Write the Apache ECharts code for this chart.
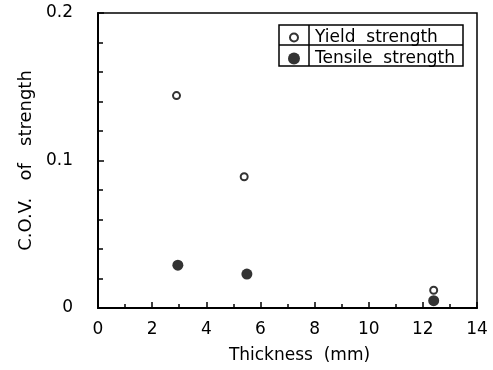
<!DOCTYPE html>
<html>
<head>
<meta charset="utf-8">
<script src="https://cdn.jsdelivr.net/npm/echarts@6/dist/echarts.min.js"></script>
<style>
  html, body { margin: 0; padding: 0; background: #fff; }
  #chart { width: 493px; height: 370px; }
</style>
</head>
<body>
<div id="chart"></div>
<script>
// Coefficient of variation of strength against plate thickness
const yieldThickness = [2.9, 5.4, 12.4];
const yieldCov = [0.144, 0.089, 0.012];
const tensileThickness = [2.95, 5.5, 12.4];
const tensileCov = [0.029, 0.023, 0.005];
const seriesNames = ['Yield  strength', 'Tensile  strength'];
const xTitle = 'Thickness  (mm)';
const yTitle = 'C.O.V.   of   strength';

const FONT = '"DejaVu Sans", Verdana, sans-serif';
const pairs = (xs, ys) => xs.map((x, i) => [x, ys[i]]);

// small ring for the legend: the two leading moves keep a 12x12 box so the ring stays small
const RING_ICON = 'path://M0,0M12,12M6,2A4,4,0,1,1,5.99,2Z';

const chart = echarts.init(document.getElementById('chart'), null, { renderer: 'canvas' });

const axisText = { color: '#000', fontFamily: FONT, fontSize: 17 };

chart.setOption({
  animation: false,
  backgroundColor: '#fff',
  grid: {
    left: 98, right: 16, top: 13, bottom: 62,
    show: true, borderColor: '#000', borderWidth: 1.5, backgroundColor: 'transparent'
  },
  legend: {
    orient: 'vertical',
    left: 287, top: 29,
    itemWidth: 12, itemHeight: 12, itemGap: 4,
    padding: 0,
    textStyle: { color: '#000', fontFamily: FONT, fontSize: 17, lineHeight: 14, padding: [0, 0, 0, 10] },
    data: [
      { name: seriesNames[0], icon: RING_ICON },
      { name: seriesNames[1], icon: 'circle' }
    ]
  },
  xAxis: {
    type: 'value', min: 0, max: 14, interval: 2,
    name: xTitle, nameLocation: 'middle', nameGap: 39,
    nameTextStyle: Object.assign({}, axisText, { padding: [0, 0, 0, 24] }),
    axisLine: { show: true, onZero: false, lineStyle: { color: '#000', width: 2 } },
    axisTick: { show: true, inside: true, length: 6, lineStyle: { color: '#000', width: 1.5 } },
    minorTick: { show: true, splitNumber: 2, length: 4, lineStyle: { color: '#000', width: 1.5 } },
    axisLabel: Object.assign({}, axisText, { margin: 13 }),
    splitLine: { show: false }
  },
  yAxis: {
    type: 'value', min: 0, max: 0.2, interval: 0.1,
    name: yTitle, nameLocation: 'middle', nameGap: 60,
    nameTextStyle: Object.assign({}, axisText, { fontSize: 18 }),
    axisLine: { show: true, onZero: false, lineStyle: { color: '#000', width: 2 } },
    axisTick: { show: true, inside: true, length: 6, lineStyle: { color: '#000', width: 1.5 } },
    minorTick: { show: true, splitNumber: 5, length: 5, lineStyle: { color: '#000', width: 1.5 } },
    axisLabel: Object.assign({}, axisText, {
      margin: 25,
      formatter: v => (v === 0 ? '0' : v.toFixed(1))
    }),
    splitLine: { show: false }
  },
  series: [
    {
      name: seriesNames[0], type: 'scatter',
      data: pairs(yieldThickness, yieldCov),
      symbol: 'circle', symbolSize: 7,
      itemStyle: { color: '#fff', borderColor: '#000', borderWidth: 2 },
      z: 3
    },
    {
      name: seriesNames[1], type: 'scatter',
      data: pairs(tensileThickness, tensileCov),
      symbol: 'circle', symbolSize: 11,
      itemStyle: { color: '#000', borderWidth: 0 },
      z: 2
    }
  ],
  graphic: [
    // legend frame with its cell dividers
    { type: 'rect', shape: { x: 279, y: 25, width: 184, height: 41 },
      style: { fill: 'none', stroke: '#000', lineWidth: 1.5 }, z: 10 },
    { type: 'line', shape: { x1: 279, y1: 45, x2: 463, y2: 45 },
      style: { stroke: '#000', lineWidth: 1.5 }, z: 10 },
    { type: 'line', shape: { x1: 309, y1: 25, x2: 309, y2: 66 },
      style: { stroke: '#000', lineWidth: 1.5 }, z: 10 }
  ]
});
</script>
</body>
</html>
